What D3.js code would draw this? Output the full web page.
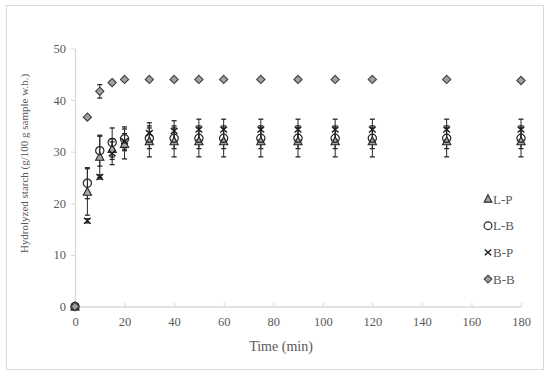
<!DOCTYPE html>
<html>
<head>
<meta charset="utf-8">
<script src="https://cdn.jsdelivr.net/npm/d3@7"></script>
<style>
  body { margin: 0; background: #fff; }
  svg text { font-family: "Liberation Serif", "Times New Roman", serif; fill: #595959; }
</style>
</head>
<body>
<div id="chart"></div>
<script>
const times = [0, 5, 10, 15, 20, 30, 40, 50, 60, 75, 90, 105, 120, 150, 180];

const lpValues = [0, 22.2, 29.0, 30.5, 31.5, 32.0, 32.0, 32.0, 32.0, 32.0, 32.0, 32.0, 32.0, 32.0, 32.0];
const lpErrors = [0, 4.5, 4.0, 2.0, 2.9, 3.0, 3.0, 3.0, 3.0, 3.0, 3.0, 3.0, 3.0, 3.0, 3.0];

const lbValues = [0, 23.9, 30.2, 31.8, 32.5, 32.6, 32.6, 32.6, 32.6, 32.6, 32.6, 32.6, 32.6, 32.6, 32.6];
const lbErrors = [0, 3.0, 3.0, 2.8, 2.3, 2.0, 2.0, 2.0, 2.0, 2.0, 2.0, 2.0, 2.0, 2.0, 2.0];

const bpValues = [0, 16.6, 25.1, 29.7, 32.0, 33.6, 34.0, 34.3, 34.3, 34.3, 34.3, 34.3, 34.3, 34.3, 34.3];
const bpErrors = [0, 0.4, 0.4, 2.2, 1.5, 2.0, 2.0, 2.0, 2.0, 2.0, 2.0, 2.0, 2.0, 2.0, 2.0];

const bbValues = [0, 36.7, 41.7, 43.4, 44.0, 44.0, 44.0, 44.0, 44.0, 44.0, 44.0, 44.0, 44.0, 44.0, 43.8];
const bbErrors = [0, 0, 1.3, 0.4, 0.3, 0.3, 0.3, 0.3, 0.3, 0.3, 0.3, 0.3, 0.3, 0.3, 0.3];

const seriesNames = ["L-P", "L-B", "B-P", "B-B"];
const xTicks = [0, 20, 40, 60, 80, 100, 120, 140, 160, 180];
const yTicks = [0, 10, 20, 30, 40, 50];

const series = [
  { name: "L-P", values: lpValues, errors: lpErrors, symbol: "triangle" },
  { name: "L-B", values: lbValues, errors: lbErrors, symbol: "circle" },
  { name: "B-P", values: bpValues, errors: bpErrors, symbol: "cross" },
  { name: "B-B", values: bbValues, errors: bbErrors, symbol: "diamond" }
];

const width = 550;
const height = 377;
const serif = "'Liberation Serif', 'Times New Roman', serif";

const svg = d3.select("#chart")
  .append("svg")
  .attr("width", width)
  .attr("height", height);

//outer frame
svg.append("rect")
  .attr("x", 6.5)
  .attr("y", 5.5)
  .attr("width", 537)
  .attr("height", 364)
  .attr("fill", "none")
  .attr("stroke", "#d9d9d9");

const x = d3.scaleLinear().domain([0, 180]).range([75, 521]);
const y = d3.scaleLinear().domain([0, 50]).range([306.5, 48.5]);

//axes
const xAxis = d3.axisBottom(x).tickValues(xTicks).tickSize(4).tickSizeOuter(0);
const yAxis = d3.axisLeft(y).tickValues(yTicks).tickSize(4).tickSizeOuter(0);

const gx = svg.append("g")
  .attr("transform", `translate(0, ${y(0)})`)
  .call(xAxis)
  .attr("font-family", serif)
  .attr("font-size", 12.5);
gx.selectAll(".tick line").attr("y2", 0).attr("y1", -4).attr("stroke", "#d9d9d9");
gx.select(".domain").attr("stroke", "#d9d9d9").attr("stroke-width", 1.3);
gx.selectAll(".tick text").attr("y", 11);

const gy = svg.append("g")
  .attr("transform", `translate(${x(0)}, 0)`)
  .call(yAxis)
  .attr("font-family", serif)
  .attr("font-size", 12.5);
gy.selectAll(".tick line").attr("stroke", "#d9d9d9");
gy.select(".domain").attr("stroke", "#d9d9d9").attr("stroke-width", 1.3);
gy.selectAll(".tick text").attr("x", -9);

//axis titles
svg.append("text")
  .attr("x", 281)
  .attr("y", 351)
  .attr("text-anchor", "middle")
  .style("font-size", "14px")
  .text("Time (min)");

svg.append("text")
  .attr("transform", `translate(28, ${y(25) - 14}) rotate(-90)`)
  .attr("text-anchor", "middle")
  .style("font-size", "11px")
  .text("Hydrolyzed starch (g/100 g sample w.b.)");

//markers
function drawMarker(g, symbol, size) {
  const s = size;
  if (symbol === "triangle") {
    g.append("path")
      .attr("d", `M0,${-s * 0.6}L${s * 0.55},${s * 0.45}L${-s * 0.55},${s * 0.45}Z`)
      .attr("fill", "#a6a6a6")
      .attr("stroke", "#262626")
      .attr("stroke-width", 1.1);
  } else if (symbol === "circle") {
    g.append("circle")
      .attr("r", s * 0.55)
      .attr("fill", "none")
      .attr("stroke", "#262626")
      .attr("stroke-width", 1.2);
  } else if (symbol === "cross") {
    g.append("path")
      .attr("d", `M${-s * 0.45},${-s * 0.4}L${s * 0.45},${s * 0.4}M${-s * 0.45},${s * 0.4}L${s * 0.45},${-s * 0.4}`)
      .attr("stroke", "#1a1a1a")
      .attr("stroke-width", 1.4);
  } else if (symbol === "diamond") {
    g.append("path")
      .attr("d", `M0,${-s * 0.55}L${s * 0.55},0L0,${s * 0.55}L${-s * 0.55},0Z`)
      .attr("fill", "#a0a0a0")
      .attr("stroke", "#404040")
      .attr("stroke-width", 1.1);
  }
}

const plot = svg.append("g");

//error bars
series.forEach(sr => {
  const g = plot.append("g");
  const pts = times.map((t, i) => ({ t, v: sr.values[i], e: sr.errors[i] })).filter(d => d.e > 0);
  g.selectAll("line.bar")
    .data(pts)
    .enter()
    .append("line")
    .attr("x1", d => x(d.t))
    .attr("x2", d => x(d.t))
    .attr("y1", d => y(d.v - d.e))
    .attr("y2", d => y(d.v + d.e))
    .attr("stroke", "#262626")
    .attr("stroke-width", 1);
  [-1, 1].forEach(sign => {
    g.selectAll(null)
      .data(pts)
      .enter()
      .append("line")
      .attr("x1", d => x(d.t) - 2.5)
      .attr("x2", d => x(d.t) + 2.5)
      .attr("y1", d => y(d.v + sign * d.e))
      .attr("y2", d => y(d.v + sign * d.e))
      .attr("stroke", "#262626")
      .attr("stroke-width", 1.3);
  });
});

//points
series.forEach(sr => {
  plot.append("g")
    .selectAll("g")
    .data(times.map((t, i) => ({ t, v: sr.values[i] })))
    .enter()
    .append("g")
    .attr("transform", d => `translate(${x(d.t)}, ${y(d.v)})`)
    .each(function () {
      drawMarker(d3.select(this), sr.symbol, 7.5);
    });
});

//legend
const legend = svg.append("g").attr("transform", "translate(488, 199)");
seriesNames.forEach((name, i) => {
  const sr = series.find(d => d.name === name);
  const row = legend.append("g").attr("transform", `translate(0, ${i * 26.7})`);
  drawMarker(row.append("g"), sr.symbol, 7);
  row.append("text")
    .attr("x", 5)
    .attr("y", 4.5)
    .style("font-size", "13px")
    .text(name);
});
</script>
</body>
</html>
